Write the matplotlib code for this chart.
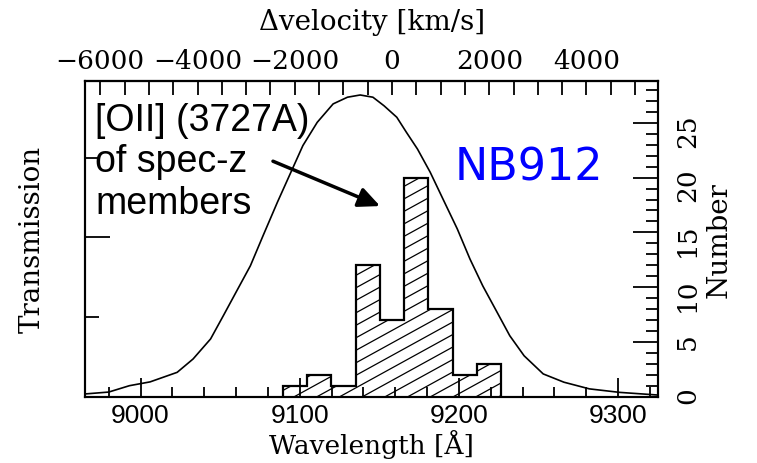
import matplotlib
matplotlib.use('Agg')
import matplotlib.pyplot as plt
import numpy as np
from matplotlib.ticker import MultipleLocator
from matplotlib.collections import LineCollection

# NB912 filter transmission curve
wl_curve = [8965, 8980, 8993, 9006, 9023, 9033, 9044, 9052, 9060, 9069,
            9077, 9086, 9094, 9102, 9111, 9121, 9130, 9138, 9146, 9153,
            9161, 9167, 9174, 9182, 9190, 9199, 9207, 9215, 9224, 9232,
            9241, 9253, 9266, 9282, 9301, 9324]
trans_curve = [0.008, 0.014, 0.034, 0.046, 0.076, 0.118, 0.181, 0.254, 0.328, 0.411,
               0.506, 0.611, 0.700, 0.789, 0.862, 0.920, 0.941, 0.948, 0.941, 0.914,
               0.878, 0.831, 0.778, 0.705, 0.621, 0.527, 0.432, 0.348, 0.265, 0.191,
               0.128, 0.071, 0.045, 0.024, 0.013, 0.005]

# [OII] of spec-z members, 500 km/s bins
vel_edges = [-2250, -1750, -1250, -750, -250, 250, 750, 1250, 1750, 2250]
counts = [1, 2, 1, 12, 7, 20, 8, 2, 3]

wl_ticks = [9000, 9100, 9200, 9300]
wl_tick_labels = ['9000', '9100', '9200', '9300']
vel_ticks = [-6000, -4000, -2000, 0, 2000, 4000]

lam0 = 9158.0
c_kms = 299792.458

def wl2v(x):
    return c_kms * (np.asarray(x) / lam0 - 1.0)

def v2wl(v):
    return lam0 * (1.0 + np.asarray(v) / c_kms)

serif = 'DejaVu Serif'
sans = 'Liberation Sans'
plt.rcParams['font.family'] = serif

fig = plt.figure(figsize=(7.57, 4.64), dpi=100)
ax_box = [0.1123, 0.1433, 0.7573, 0.6793]
ax = fig.add_axes(ax_box)

ax.plot(wl_curve, trans_curve, color='black', lw=1.2)
ax.set_xlim(8965.1, 9325.3)
ax.set_ylim(0, 0.991)
ax.set_xticks(wl_ticks, wl_tick_labels, family=sans)
ax.xaxis.set_minor_locator(MultipleLocator(20))
ax.set_yticks([0.5])
ax.set_yticks([0.25, 0.75], minor=True)
ax.tick_params(axis='y', which='both', direction='in', labelleft=False, width=1.3)
ax.tick_params(axis='y', which='major', length=18)
ax.tick_params(axis='y', which='minor', length=10)
ax.tick_params(axis='x', which='both', direction='in', top=False, width=1.3, pad=5)
ax.tick_params(axis='x', which='major', length=14, labelsize=19)
ax.tick_params(axis='x', which='minor', length=7)
ax.set_xlabel('Wavelength [Å]', fontsize=19, labelpad=1)
ax.set_ylabel('Transmission', fontsize=20, labelpad=28)
for s in ax.spines.values():
    s.set_linewidth(1.5)

# histogram on the right-hand axis
ax2 = ax.twinx()
ax2.set_ylim(0, 28.8)
ax2.yaxis.set_major_locator(MultipleLocator(5))
ax2.yaxis.set_minor_locator(MultipleLocator(1))
ax2.tick_params(axis='y', which='both', direction='in', width=1.3,
                labelsize=19, labelrotation=90, pad=12)
ax2.tick_params(axis='y', which='major', length=18)
ax2.tick_params(axis='y', which='minor', length=9)
ax2.set_ylabel('Number', fontsize=20, rotation=90, labelpad=4)
for s in ax2.spines.values():
    s.set_linewidth(1.5)

wl_edges = v2wl(vel_edges)
step = ax2.stairs(counts, wl_edges, baseline=0, color='black', lw=1.6)

# slanted hatching clipped to the histogram
ax_w = ax_box[2] * 757
ax_h = ax_box[3] * 464
slope = 0.55 * ax_w / ax_h
gap = 12.5 / ax_h
segs = [[(0, b), (1, b + slope)] for b in np.arange(-slope, 1, gap)]
hatch = LineCollection(segs, colors='black', linewidths=0.9, transform=ax2.transAxes)
ax2.add_collection(hatch, autolim=False)
hatch.set_clip_path(step)

# top velocity axis
secax = ax.secondary_xaxis('top', functions=(wl2v, v2wl))
secax.set_xticks(vel_ticks)
secax.xaxis.set_minor_locator(MultipleLocator(500))
secax.tick_params(which='both', direction='in', length=10, width=1.3, labelsize=19, pad=6)
secax.set_xlabel('Δvelocity [km/s]', fontsize=20, labelpad=14)
secax.spines['top'].set_linewidth(1.5)

# annotations
ax2.text(0.0174, 0.935, '[OII] (3727A)\nof spec-z\nmembers', transform=ax2.transAxes,
         family=sans, fontsize=27, ha='left', va='top', linespacing=1.2)
ax2.annotate('', xy=(9150.5, 17.4), xytext=(9083.2, 21.5),
             arrowprops=dict(arrowstyle='-|>,head_length=0.65,head_width=0.3',
                             color='black', lw=2.5, mutation_scale=20,
                             shrinkA=0, shrinkB=0))
ax2.text(0.645, 0.690, 'NB912', transform=ax2.transAxes, family='DejaVu Sans',
         fontsize=32, color='#0000ff', ha='left', va='baseline')

fig.savefig('out.png', dpi=100)
